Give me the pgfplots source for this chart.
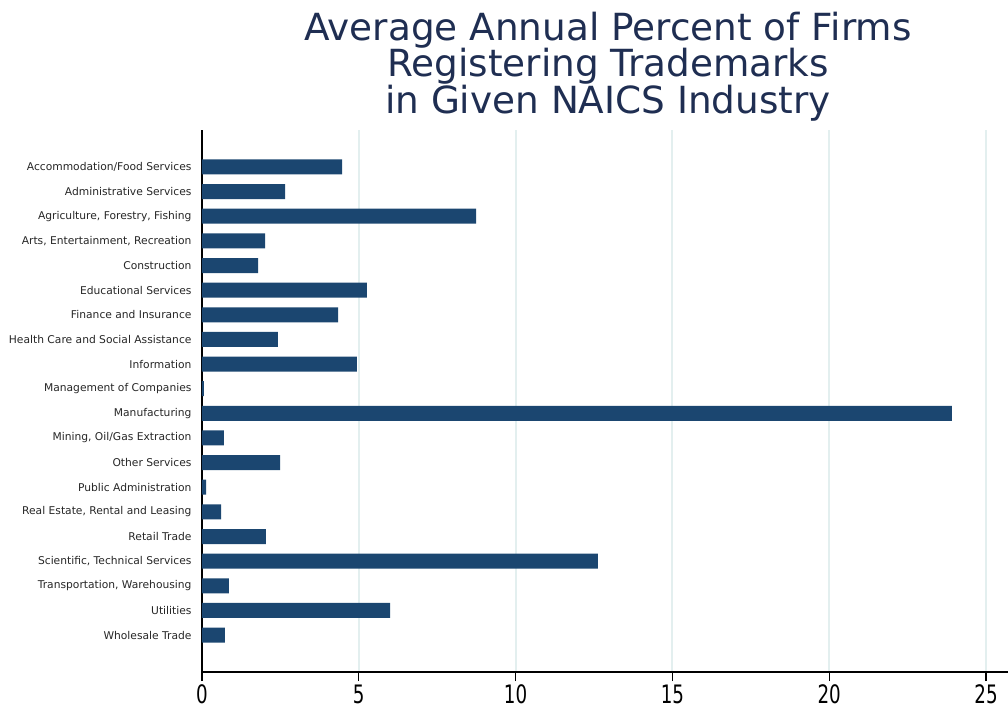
\documentclass[border=0pt]{standalone}
\usepackage{fontspec}
\setmainfont{DejaVu Sans}
\newfontfamily\tickfont{DejaVu Sans}[FakeStretch=0.72]
\usepackage{pgfplots}
\pgfplotsset{compat=1.18}
\definecolor{barc}{HTML}{1B4670}
\definecolor{titlec}{HTML}{1F2E52}
\definecolor{gridc}{HTML}{E3EFEF}
\begin{document}
\begin{tikzpicture}
\begin{axis}[
  scale only axis,
  width=806bp, height=542bp,
  xbar, bar width=15bp,
  xmin=0, xmax=25.7,
  ymin=-1.5, ymax=20.5, y dir=reverse,
  ytick={0,...,19},
  yticklabels={Accommodation/Food Services, Administrative Services, {Agriculture, Forestry, Fishing}, {Arts, Entertainment, Recreation}, Construction, Educational Services, Finance and Insurance, Health Care and Social Assistance, Information, Management of Companies, Manufacturing, {Mining, Oil/Gas Extraction}, Other Services\ , Public Administration, {Real Estate, Rental and Leasing}, Retail Trade, {Scientific, Technical Services}, {Transportation, Warehousing}, Utilities, Wholesale Trade},
  y tick label style={font=\fontsize{10.75}{12}\selectfont, text=black!85},
  ytick style={draw=none},
  yticklabel style={xshift=2bp},
  xtick={0,5,10,15,20,25},
  /pgf/number format/assume math mode=true,
  x tick label style={font=\tickfont\fontsize{25.5}{28}\selectfont},
  xtick style={line width=1.2bp, black},
  tick align=outside,
  major tick length=9bp,
  axis x line*=bottom, axis y line*=left,
  axis line style={line width=1.5bp, black, -},
  xmajorgrids, grid style={gridc, line width=2bp},
  clip=false,
]
\addplot[fill=barc, draw=none] coordinates {
(4.47,0) (2.65,1) (8.74,2) (2.01,3) (1.79,4) (5.26,5) (4.34,6) (2.42,7) (4.94,8) (0.06,9)
(23.91,10) (0.70,11) (2.49,12) (0.13,13) (0.61,14) (2.04,15) (12.62,16) (0.86,17) (6.00,18) (0.73,19)};
\coordinate (o) at (rel axis cs:0,0);
\node[anchor=north, align=center, text=titlec, font=\fontsize{37.5}{36.5}\selectfont, inner sep=0pt] at ([shift={(406bp,660bp)}]o) {Average Annual Percent of Firms\\Registering Trademarks\\in Given NAICS Industry};
\end{axis}
\pgfresetboundingbox
\useasboundingbox ([shift={(-202bp,-43bp)}]o) rectangle ([shift={(806bp,672bp)}]o);
\end{tikzpicture}
\end{document}
